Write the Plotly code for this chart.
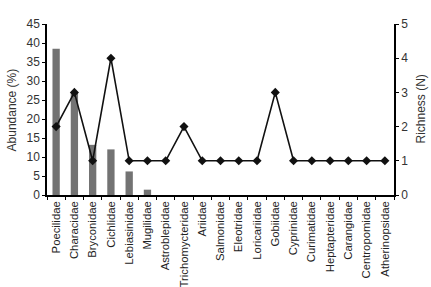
import plotly.graph_objects as go

families = ["Poecilidae", "Characidae", "Bryconidae", "Cichlidae", "Lebiasinidae",
            "Mugilidae", "Astroblepidae", "Trichomycteridae", "Ariidae", "Salmonidae",
            "Eleotridae", "Loricariidae", "Gobiidae", "Cyprinidae", "Curimatidae",
            "Heptapteridae", "Carangidae", "Centropomidae", "Atherinopsidae"]
abundance = [38.5, 27.0, 13.2, 12.0, 6.2, 1.4, 0, 0, 0, 0, 0, 0, 0, 0, 0, 0, 0, 0, 0]
richness = [2, 3, 1, 4, 1, 1, 1, 2, 1, 1, 1, 1, 3, 1, 1, 1, 1, 1, 1]
left_ticks = [0, 5, 10, 15, 20, 25, 30, 35, 40, 45]
right_ticks = [0, 1, 2, 3, 4, 5]

ff = "Liberation Sans, Arial, sans-serif"
font = dict(family=ff, size=11, color="#333333")
tickfont = dict(family=ff, size=12, color="#333333")

fig = go.Figure()
fig.add_trace(go.Bar(x=families, y=abundance, marker=dict(color="#737373", line=dict(width=0)),
                     width=0.4, yaxis="y"))
fig.add_trace(go.Scatter(x=families, y=richness, mode="lines+markers", yaxis="y2",
                         line=dict(color="#111111", width=1.6),
                         marker=dict(symbol="diamond", size=7, color="#111111")))

fig.update_layout(
    width=431, height=287,
    margin=dict(l=47, r=37, t=24, b=92),
    paper_bgcolor="white", plot_bgcolor="white",
    showlegend=False, font=font,
    xaxis=dict(type="category", showline=True, linecolor="black", linewidth=1.5,
               ticks="outside", tickson="boundaries", ticklen=3, tickcolor="black",
               tickangle=-90, showgrid=False, automargin=False,
               tickfont=dict(family=ff, size=11.3, color="#222222"),
               range=[-0.5, 18.5]),
    yaxis=dict(range=[0, 45], tickvals=left_ticks, showline=True, linecolor="black",
               linewidth=1.5, ticks="outside", ticklen=3, tickcolor="black", showgrid=False,
               zeroline=False, automargin=False, tickfont=tickfont),
    yaxis2=dict(range=[0, 5], tickvals=right_ticks, overlaying="y", side="right",
                showline=True, linecolor="black", linewidth=1.5, ticks="outside", ticklen=3,
                tickcolor="black", showgrid=False, zeroline=False, automargin=False,
                tickfont=tickfont),
    annotations=[
        dict(text="Abundance (%)", xref="paper", yref="paper", x=-0.101, y=0.5,
             textangle=-90, showarrow=False, xanchor="center", yanchor="middle",
             font=dict(family=ff, size=12, color="#333333")),
        dict(text="Richness (N)", xref="paper", yref="paper", x=1.075, y=0.5,
             textangle=-90, showarrow=False, xanchor="center", yanchor="middle",
             font=dict(family=ff, size=12, color="#333333")),
    ],
)

# remove the default 8px page margin so the fixed-size figure sits at the window's corner
fig.write_html("out.html", config={"displayModeBar": False},
               post_script="document.body.style.margin='0';document.body.style.overflow='hidden';")
